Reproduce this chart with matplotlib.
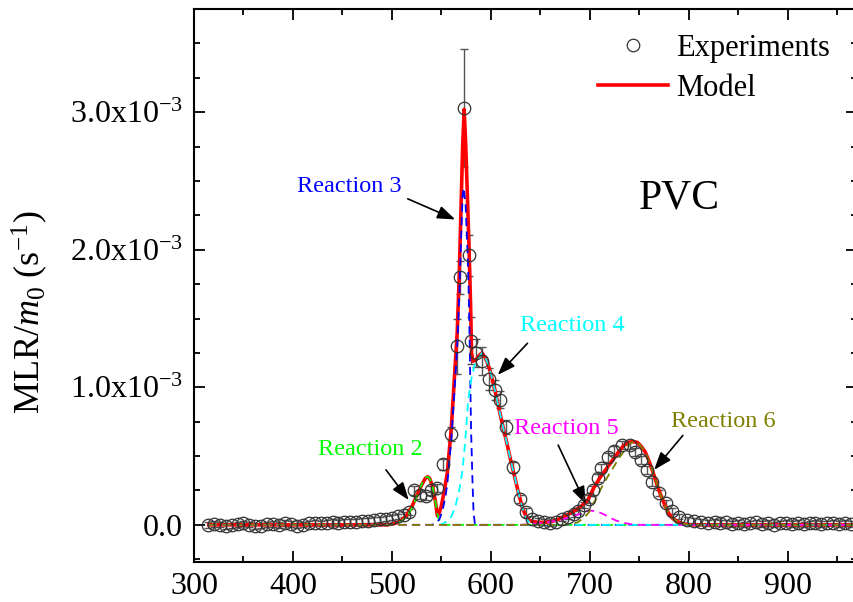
import matplotlib
matplotlib.use("Agg")
import matplotlib.pyplot as plt
import numpy as np
from matplotlib.ticker import FuncFormatter, MultipleLocator

plt.rcParams["font.family"] = "Liberation Serif"
plt.rcParams["mathtext.fontset"] = "custom"
plt.rcParams["mathtext.rm"] = "Liberation Serif"
plt.rcParams["mathtext.it"] = "Liberation Serif:italic"

# experiments (temperature in C, MLR/m0 in 1e-3 1/s)
temp_exp = [
    314, 320, 326, 332, 338, 344, 350, 356, 362, 368, 374, 380, 386, 392, 398, 404,
    410, 416, 422, 428, 434, 440, 446, 452, 458, 464, 470, 476, 482, 488, 494,
    500, 506, 512, 517,
    522, 528, 534, 540, 546, 552, 560, 566, 569, 573, 578, 580, 585, 591, 598, 604,
    609, 615, 622, 629, 636,
    642, 648, 654, 660, 666, 672, 678, 684, 688, 694, 699, 703, 708, 711, 718, 724,
    733, 741, 746, 752, 758, 763, 770, 777, 783, 790, 798, 805, 812, 819,
    826, 832, 838, 844, 850, 856, 862, 868, 874, 880, 886, 892, 898, 904, 910, 916,
    922, 928, 934, 940, 946, 952, 958, 964,
]
mlr_exp = [
    0.000, 0.006, 0.002, -0.008, -0.004, 0.004, 0.010, 0.002, -0.010, -0.006, 0.004, 0.008, 0.000, 0.012, 0.006, -0.006,
    0.002, 0.010, 0.016, 0.010, 0.016, 0.020, 0.014, 0.022, 0.024, 0.020, 0.028, 0.030, 0.034, 0.040, 0.046,
    0.052, 0.062, 0.075, 0.095,
    0.25, 0.22, 0.21, 0.25, 0.27, 0.44, 0.66, 1.30, 1.80, 3.03, 1.96, 1.34, 1.25, 1.19, 1.06, 0.98,
    0.91, 0.71, 0.42, 0.19, 0.09,
    0.045, 0.030, 0.022, 0.015, 0.022, 0.045, 0.060, 0.080, 0.100, 0.145, 0.19, 0.25, 0.34, 0.41, 0.49, 0.54,
    0.58, 0.58, 0.53, 0.47, 0.40, 0.31, 0.23, 0.16, 0.10, 0.060, 0.036, 0.028, 0.022, 0.015,
    0.020, 0.012, 0.018, 0.008, 0.015, 0.004, 0.010, 0.018, 0.006, 0.012, 0.002, 0.010, 0.016, 0.006, 0.012, 0.004,
    0.010, 0.014, 0.005, 0.010, 0.016, 0.008, 0.012, 0.006,
]
err_exp = [
    0.02, 0.02, 0.02, 0.02, 0.02, 0.02, 0.02, 0.02, 0.02, 0.02, 0.02, 0.02, 0.02, 0.02, 0.02, 0.02,
    0.02, 0.02, 0.02, 0.02, 0.02, 0.02, 0.02, 0.02, 0.02, 0.02, 0.02, 0.02, 0.02, 0.02, 0.02,
    0.02, 0.02, 0.02, 0.02,
    0.03, 0.03, 0.03, 0.03, 0.03, 0.04, 0.05, 0.20, 0.12, 0.43, 0.15, 0.17, 0.10, 0.10, 0.08, 0.07,
    0.06, 0.05, 0.04, 0.03, 0.03,
    0.02, 0.02, 0.02, 0.02, 0.02, 0.02, 0.02, 0.02, 0.02, 0.02, 0.03, 0.03, 0.03, 0.03, 0.03, 0.03,
    0.03, 0.03, 0.03, 0.03, 0.03, 0.03, 0.02, 0.02, 0.02, 0.02, 0.02, 0.02, 0.02, 0.02,
    0.02, 0.02, 0.02, 0.02, 0.02, 0.02, 0.02, 0.02, 0.02, 0.02, 0.02, 0.02, 0.02, 0.02, 0.02, 0.02,
    0.02, 0.02, 0.02, 0.02, 0.02, 0.02, 0.02, 0.02,
]

# model (sum of reactions)
temp_model = [315, 495, 500, 505, 510, 515, 520, 525, 530, 534, 536, 538, 541, 544, 546, 548, 550, 553,
              556, 560, 563, 566, 568, 570, 571.5, 573, 574.5, 576, 578, 579.5, 580.5, 582, 585, 588,
              591, 594, 597, 600, 604, 608, 612, 616, 620, 624, 628, 632, 635, 638, 642, 648, 655,
              662, 668, 674, 680, 686, 692, 698, 704, 710, 714, 719, 724, 729, 734, 739, 743, 748,
              752, 756, 760, 764, 768, 772, 776, 780, 784, 788, 793, 800, 971]
mlr_model = [0.0, 0.0, 0.005, 0.015, 0.035, 0.07, 0.13, 0.21, 0.29, 0.34, 0.35, 0.34, 0.28, 0.17, 0.065, 0.09, 0.14, 0.25,
             0.38, 0.70, 1.05, 1.40, 1.80, 2.35, 2.75, 3.02, 2.78, 2.45, 2.00, 1.60, 1.25, 1.19, 1.20, 1.23,
             1.25, 1.22, 1.17, 1.10, 0.98, 0.85, 0.72, 0.60, 0.47, 0.35, 0.23, 0.12, 0.07, 0.035, 0.025, 0.018, 0.018,
             0.025, 0.04, 0.06, 0.085, 0.11, 0.14, 0.18, 0.27, 0.34, 0.38, 0.43, 0.48, 0.53, 0.575, 0.60, 0.605, 0.60,
             0.57, 0.53, 0.46, 0.38, 0.29, 0.21, 0.14, 0.08, 0.045, 0.025, 0.01, 0.0, 0.0]

# individual reactions
temp_r2 = [315, 497, 502, 507, 512, 517, 522, 527, 531, 534, 536, 538, 541, 544, 546, 548, 550, 971]
mlr_r2 = [0.0, 0.0, 0.005, 0.015, 0.04, 0.08, 0.15, 0.24, 0.31, 0.345, 0.35, 0.34, 0.28, 0.17, 0.08, 0.02, 0.0, 0.0]

temp_r3 = [315, 540, 544, 548, 551, 554, 556, 560, 563, 566, 568, 570, 571.5, 572.5, 574.5, 576.5, 577.5,
           578.5, 580, 581.5, 582.5, 584, 971]
mlr_r3 = [0.0, 0.0, 0.01, 0.04, 0.10, 0.20, 0.30, 0.62, 0.95, 1.30, 1.65, 2.10, 2.40, 2.45, 2.32, 1.97, 1.73,
          1.35, 0.69, 0.30, 0.09, 0.0, 0.0]

temp_r4 = [315, 548, 552, 556, 560, 564, 568, 571, 574, 577, 580, 583, 586, 591, 594, 597, 600, 604, 608,
           612, 616, 620, 624, 628, 632, 635, 638, 642, 646, 971]
mlr_r4 = [0.0, 0.0, 0.01, 0.03, 0.06, 0.13, 0.25, 0.38, 0.60, 0.90, 1.05, 1.15, 1.20, 1.25, 1.22, 1.17, 1.10,
          0.98, 0.85, 0.72, 0.60, 0.47, 0.35, 0.23, 0.12, 0.06, 0.025, 0.005, 0.0, 0.0]

temp_r5 = [315, 630, 640, 650, 660, 670, 680, 690, 699, 705, 711, 716, 721, 727, 734, 744, 750, 971]
mlr_r5 = [0.0, 0.0, 0.005, 0.012, 0.022, 0.035, 0.055, 0.08, 0.105, 0.10, 0.087, 0.07, 0.05, 0.03, 0.015,
          0.002, 0.0, 0.0]

temp_r6 = [315, 675, 682, 688, 694, 699, 704, 711, 718, 724, 730, 736, 740, 744, 748, 752, 756, 760, 764,
           768, 772, 776, 780, 784, 788, 793, 800, 971]
mlr_r6 = [0.0, 0.0, 0.005, 0.02, 0.05, 0.09, 0.16, 0.26, 0.35, 0.42, 0.49, 0.55, 0.59, 0.605, 0.60, 0.57,
          0.53, 0.46, 0.38, 0.29, 0.21, 0.14, 0.08, 0.045, 0.025, 0.01, 0.0, 0.0]

reactions = [
    ("Reaction 2", temp_r2, mlr_r2, "#00ff00"),
    ("Reaction 3", temp_r3, mlr_r3, "#0000ff"),
    ("Reaction 4", temp_r4, mlr_r4, "#00ffff"),
    ("Reaction 5", temp_r5, mlr_r5, "#ff00ff"),
    ("Reaction 6", temp_r6, mlr_r6, "#808000"),
]

# label text position, arrow start, arrow tip (temperature, 1e-3 1/s)
notes = {
    "Reaction 2": ((478, 0.545), (494, 0.40), (517, 0.18)),
    "Reaction 3": ((457, 2.46), (516, 2.37), (564, 2.22)),
    "Reaction 4": ((682, 1.45), (637, 1.32), (607, 1.09)),
    "Reaction 5": ((676, 0.70), (668, 0.58), (696, 0.15)),
    "Reaction 6": ((835, 0.75), (794, 0.65), (765, 0.40)),
}

scale = 1e-3

fig = plt.figure(figsize=(8.54, 6.02), dpi=100)
ax = fig.add_axes([194 / 854, 40 / 602, 663 / 854, 553 / 602])

ax.errorbar(temp_exp, np.array(mlr_exp) * scale, yerr=np.array(err_exp) * scale, fmt="none",
            ecolor="#555555", elinewidth=1.0, capsize=3, capthick=1.0, zorder=2)
ax.plot(temp_model, np.array(mlr_model) * scale, color="#ff0000", lw=2.6, label="Model", zorder=3)
for name, t, v, color in reactions:
    ax.plot(t, np.array(v) * scale, color=color, lw=1.3, dashes=(4.5, 3), zorder=4)
ax.plot(temp_exp, np.array(mlr_exp) * scale, "o", ms=9, mfc="none", mec="#333333", mew=0.9,
        label="Experiments", zorder=5)

for name, t, v, color in reactions:
    text_pos, start, tip = notes[name]
    ax.text(text_pos[0], text_pos[1] * scale, name, color=color, fontsize=17.5, ha="center", va="center")
    ax.annotate("", xy=(tip[0], tip[1] * scale), xytext=(start[0], start[1] * scale),
                arrowprops=dict(arrowstyle="-|>,head_length=0.6,head_width=0.22", color="black",
                                lw=1.2, mutation_scale=18, shrinkA=0, shrinkB=0))

ax.text(790, 2.375 * scale, "PVC", fontsize=30, ha="center", va="center")

ax.set_xlim(300, 970)
ax.set_ylim(-0.27e-3, 3.75e-3)
ax.xaxis.set_major_locator(MultipleLocator(100))
ax.xaxis.set_minor_locator(MultipleLocator(50))
ax.yaxis.set_major_locator(MultipleLocator(1e-3))
ax.yaxis.set_minor_locator(MultipleLocator(0.25e-3))
ax.yaxis.set_major_formatter(FuncFormatter(
    lambda v, _: "0.0" if abs(v) < 1e-9 else f"{v / scale:.1f}x10$^{{-3}}$"))
ax.tick_params(which="both", direction="in", top=True, right=True, width=1.3, labelsize=23)
ax.tick_params(which="major", length=8)
ax.tick_params(which="minor", length=4.5)
ax.tick_params(axis="x", which="major", pad=7.5)
ax.tick_params(axis="y", which="major", pad=8)
for spine in ax.spines.values():
    spine.set_linewidth(1.5)

ax.set_ylabel(r"MLR/$m_{\mathit{0}}$ (s$^{-1}$)", fontsize=26)
ax.yaxis.set_label_coords(-0.217, 0.452)

handles, labels = ax.get_legend_handles_labels()
order = [labels.index("Experiments"), labels.index("Model")]
ax.legend([handles[i] for i in order], [labels[i] for i in order], loc="upper left",
          bbox_to_anchor=(598 / 854, 1 - 34 / 602), bbox_transform=fig.transFigure,
          frameon=False, fontsize=22, borderpad=0, borderaxespad=0, handlelength=2.3,
          handletextpad=0.26, labelspacing=0.35)

fig.savefig("out.png", dpi=100)
